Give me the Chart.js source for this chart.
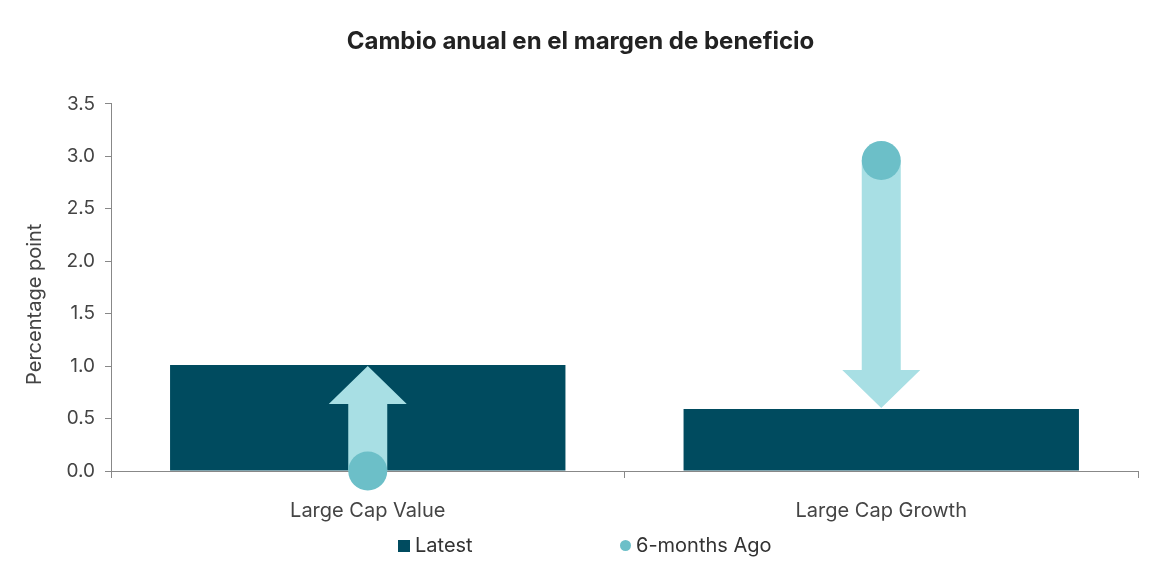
<!DOCTYPE html>
<html>
<head>
<meta charset="utf-8">
<script src="https://cdn.jsdelivr.net/npm/chart.js@4"></script>
<style>
  html,body{margin:0;padding:0;background:#fff;}
  #wrap{position:relative;width:1166px;height:570px;}
  #legend{position:absolute;top:532px;left:0;width:1166px;height:26px;font-family:Inter,"Noto Sans",sans-serif;font-size:20px;color:#333;}
  .item{position:absolute;top:0;line-height:26px;white-space:nowrap;}
  .sw{display:inline-block;vertical-align:middle;margin-right:5px;position:relative;top:-1px;}
</style>
</head>
<body>
<div id="wrap">
  <canvas id="c" width="1166" height="570"></canvas>
  <div id="legend"></div>
</div>
<script>
const categories = ["Large Cap Value", "Large Cap Growth"];
const latestValues = [1.01, 0.59];
const sixMonthsAgoValues = [0.0, 2.96];
const seriesNames = ["Latest", "6-months Ago"];
const titleText = "Cambio anual en el margen de beneficio";
const yAxisTitle = "Percentage point";

const barColor = "#004b5f";
const shaftColor = "#a8dfe4";
const dotColor = "#6cbfc8";
const fontFam = "Inter, 'Noto Sans', sans-serif";

const arrowPlugin = {
  id: "arrows",
  afterDatasetDraw(chart, args) {
    if (args.index !== 0) return;
    const ctx = chart.ctx;
    const xs = chart.scales.x, ys = chart.scales.y;
    const headH = 38, headHalf = 39, shaftHalf = 19.5;
    ctx.save();
    ctx.fillStyle = shaftColor;
    for (let i = 0; i < categories.length; i++) {
      const x = xs.getPixelForValue(i);
      const y0 = ys.getPixelForValue(sixMonthsAgoValues[i]);
      const y1 = ys.getPixelForValue(latestValues[i]);
      const dir = y1 > y0 ? 1 : -1;
      const tip = y1 - dir * 1;
      const base = tip - dir * headH;
      ctx.beginPath();
      ctx.moveTo(x - shaftHalf, y0);
      ctx.lineTo(x - shaftHalf, base);
      ctx.lineTo(x - headHalf, base);
      ctx.lineTo(x, tip);
      ctx.lineTo(x + headHalf, base);
      ctx.lineTo(x + shaftHalf, base);
      ctx.lineTo(x + shaftHalf, y0);
      ctx.closePath();
      ctx.fill();
    }
    ctx.restore();
  }
};

new Chart(document.getElementById("c"), {
  data: {
    labels: categories,
    datasets: [
      {
        type: "bar",
        label: seriesNames[0],
        data: latestValues,
        backgroundColor: barColor,
        categoryPercentage: 1.0,
        barPercentage: 0.77,
        order: 1
      },
      {
        type: "line",
        label: seriesNames[1],
        data: sixMonthsAgoValues,
        showLine: false,
        clip: false,
        pointRadius: 19.5,
        pointHoverRadius: 19.5,
        pointBackgroundColor: dotColor,
        pointBorderWidth: 0,
        borderColor: dotColor,
        order: 0
      }
    ]
  },
  options: {
    responsive: false,
    animation: false,
    events: [],
    layout: { padding: { left: 23, right: 28, top: 0, bottom: 48 } },
    plugins: {
      legend: { display: false },
      tooltip: { enabled: false },
      title: {
        display: true,
        text: titleText,
        color: "#222",
        font: { family: fontFam, size: 24, weight: "bold", lineHeight: 1.2 },
        padding: { top: 27, bottom: 48 }
      }
    },
    scales: {
      x: {
        type: "category",
        offset: true,
        grid: { display: true, drawOnChartArea: false, offset: true, tickLength: 7, color: "#888" },
        border: { display: true, color: "#888", width: 1 },
        ticks: { color: "#444", font: { family: fontFam, size: 20 }, padding: 21 },
        afterFit(scale) { scale.height = 51; }
      },
      y: {
        min: 0, max: 3.5,
        grid: { display: true, drawOnChartArea: false, tickLength: 6, color: "#888" },
        border: { display: true, color: "#888", width: 1 },
        ticks: {
          stepSize: 0.5,
          color: "#444",
          font: { family: fontFam, size: 19 },
          padding: 10,
          callback: v => Number(v).toFixed(1)
        },
        title: {
          display: true,
          text: yAxisTitle + "\u00A0".repeat(6),
          color: "#444",
          font: { family: fontFam, size: 20 },
          padding: { top: 0, bottom: 10 }
        },
        afterFit(scale) { scale.width = 88; }
      }
    }
  },
  plugins: [arrowPlugin]
});

// Legend (HTML)
const leg = document.getElementById("legend");
const legendPos = [398, 620];
seriesNames.forEach((name, i) => {
  const d = document.createElement("div");
  d.className = "item";
  d.style.left = legendPos[i] + "px";
  const sw = document.createElement("span");
  sw.className = "sw";
  if (i === 0) {
    sw.style.width = "12px"; sw.style.height = "12px"; sw.style.background = barColor;
  } else {
    sw.style.width = "11px"; sw.style.height = "11px"; sw.style.background = dotColor; sw.style.borderRadius = "50%";
  }
  d.appendChild(sw);
  d.appendChild(document.createTextNode(name));
  leg.appendChild(d);
});
</script>
</body>
</html>
